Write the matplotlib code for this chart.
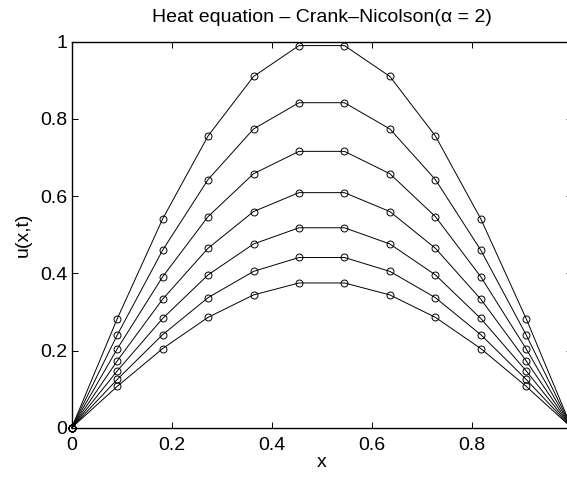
import matplotlib
matplotlib.use("Agg")
import matplotlib.pyplot as plt

plt.rcParams['font.family'] = ['Liberation Sans', 'DejaVu Sans']

x = [0, 1/11, 2/11, 3/11, 4/11, 5/11, 6/11, 7/11, 8/11, 9/11, 10/11, 1]

half_profiles = [
    [0.0, 0.282, 0.541, 0.756, 0.910, 0.990],
    [0.0, 0.240, 0.460, 0.643, 0.774, 0.842],
    [0.0, 0.204, 0.391, 0.547, 0.658, 0.716],
    [0.0, 0.173, 0.333, 0.465, 0.560, 0.609],
    [0.0, 0.147, 0.283, 0.396, 0.476, 0.518],
    [0.0, 0.125, 0.241, 0.337, 0.405, 0.441],
    [0.0, 0.107, 0.205, 0.286, 0.344, 0.375],
]
profiles = [h + h[::-1] for h in half_profiles]

xticks = [0, 0.2, 0.4, 0.6, 0.8, 1]
yticks = [0, 0.2, 0.4, 0.6, 0.8, 1]
xticklabels = ['0', '0.2', '0.4', '0.6', '0.8', '1']
yticklabels = ['0', '0.2', '0.4', '0.6', '0.8', '1']

fig = plt.figure(figsize=(5.67, 4.78), dpi=100)
ax = fig.add_axes([0.1265, 0.1052, 0.8818, 0.8075])

for p in profiles:
    ax.plot(x, p, color='black', linewidth=0.7, marker='o', markersize=5,
            markerfacecolor='none', markeredgewidth=0.7, clip_on=False)

ax.set_xlim(0, 1)
ax.set_ylim(0, 1)
ax.set_xticks(xticks)
ax.set_xticklabels(xticklabels)
ax.set_yticks(yticks)
ax.set_yticklabels(yticklabels)
ax.tick_params(direction='in', length=4.5, width=0.7, labelsize=14,
               top=True, right=True)
ax.tick_params(axis='x', pad=7)
ax.tick_params(axis='y', pad=3)
for s in ax.spines.values():
    s.set_linewidth(1.0)

ax.set_xlabel('x', fontsize=14, labelpad=0)
ax.set_ylabel('u(x,t)', fontsize=14, labelpad=6)
ax.set_title('Heat equation – Crank–Nicolson(α = 2)', fontsize=14, pad=14)

fig.savefig('out.png', dpi=100)
